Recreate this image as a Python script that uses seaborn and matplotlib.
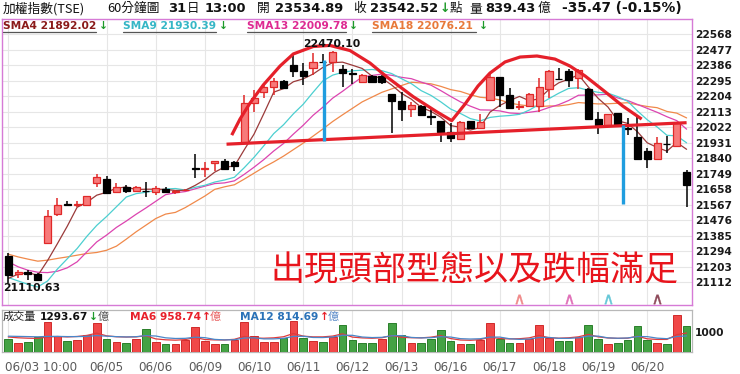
import matplotlib
matplotlib.use("Agg")
import matplotlib.pyplot as plt
import matplotlib.transforms as mtransforms
from matplotlib.lines import Line2D
import numpy as np
import pandas as pd
import seaborn as sns

# ---------------- data ----------------
days = ["06/03", "06/04", "06/05", "06/06", "06/09", "06/10", "06/11",
        "06/12", "06/13", "06/16", "06/17", "06/18", "06/19", "06/20"]
bar_times = ["10:00", "11:00", "12:00", "13:00", "13:30"]
unlabeled_days = ["06/04"]

opens = [21265, 21158, 21170, 21158, 21340, 21512, 21574, 21566, 21568, 21696,
         21715, 21641, 21670, 21647, 21649, 21643, 21660, 21641, 21651, 21780,
         21776, 21813, 21823, 21817, 21926, 22165, 22230, 22259, 22294, 22386,
         22353, 22367, 22406, 22406, 22363, 22340, 22288, 22324, 22324, 22218,
         22177, 22128, 22146, 22087, 22060, 21995, 21954, 22056, 22018, 22179,
         22318, 22210, 22139, 22146, 22144, 22246, 22305, 22352, 22310, 22244,
         22069, 22034, 22102, 22016, 21962, 21883, 21833, 21924, 21914, 21757]
highs = [21281, 21187, 21183, 21164, 21535, 21604, 21590, 21590, 21621, 21745,
         21735, 21692, 21682, 21676, 21702, 21678, 21672, 21653, 21660, 21866,
         21819, 21825, 21833, 21823, 22210, 22241, 22283, 22308, 22298, 22454,
         22400, 22455, 22450, 22470.10, 22386, 22361, 22333, 22328, 22328, 22218,
         22230, 22168, 22151, 22130, 22060, 22044, 22060, 22058, 22097, 22337,
         22318, 22249, 22178, 22220, 22308, 22357, 22371, 22361, 22362, 22249,
         22112, 22100, 22103, 22078, 22081, 21897, 21966, 21972, 22054, 21768]
lows = [21110.63, 21140, 21128, 21124, 21340, 21500, 21561, 21555, 21565, 21672,
        21629, 21633, 21633, 21641, 21614, 21623, 21637, 21629, 21647, 21721,
        21731, 21766, 21770, 21766, 21926, 22112, 22191, 22210, 22245, 22314,
        22269, 22328, 22400, 22347, 22259, 22275, 22283, 22279, 22275, 21985,
        22056, 22081, 22085, 22036, 21936, 21936, 21948, 22014, 22014, 22179,
        22142, 22127, 22122, 22142, 22112, 22195, 22302, 22257, 22245, 22069,
        21983, 22030, 22032, 21975, 21834, 21780, 21829, 21873, 21911, 21555]
closes = [21154, 21170, 21158, 21128, 21502, 21568, 21566, 21572, 21621, 21731,
          21637, 21668, 21647, 21672, 21645, 21666, 21643, 21645, 21655, 21776,
          21780, 21821, 21776, 21793, 22165, 22190, 22259, 22292, 22249, 22353,
          22324, 22406, 22403, 22465, 22337, 22335, 22328, 22285, 22288, 22177,
          22130, 22150, 22093, 22083, 21993, 21956, 22052, 22018, 22050, 22318,
          22210, 22134, 22144, 22218, 22255, 22353, 22303, 22300, 22359, 22069,
          22034, 22098, 22034, 22011, 21838, 21837, 21926, 21921, 22044, 21682]
sma4 = [21135, 21160, 21170, 21152, 21240, 21339, 21441, 21552, 21582, 21623,
        21640, 21664, 21671, 21656, 21658, 21658, 21657, 21650, 21652, 21680,
        21714, 21758, 21788, 21793, 21889, 21981, 22102, 22227, 22248, 22288,
        22305, 22333, 22372, 22400, 22403, 22385, 22366, 22321, 22309, 22269,
        22220, 22186, 22138, 22114, 22080, 22031, 22021, 22005, 22019, 22110,
        22149, 22178, 22202, 22177, 22188, 22243, 22282, 22303, 22329, 22258,
        22191, 22140, 22059, 22044, 21995, 21930, 21903, 21881, 21932, 21892]
sma9 = [21140, 21120, 21100, 21085, 21120, 21190, 21250, 21310, 21382, 21446,
        21498, 21555, 21612, 21632, 21640, 21651, 21659, 21662, 21653, 21669,
        21681, 21700, 21712, 21728, 21784, 21845, 21913, 21984, 22036, 22100,
        22156, 22226, 22293, 22327, 22343, 22352, 22356, 22360, 22353, 22336,
        22306, 22277, 22236, 22208, 22170, 22128, 22102, 22072, 22058, 22079,
        22086, 22090, 22097, 22122, 22155, 22189, 22221, 22249, 22253, 22238,
        22226, 22221, 22201, 22174, 22117, 22065, 22023, 21974, 21971, 21930]
sma13 = [21232, 21203, 21183, 21171, 21169, 21177, 21197, 21232, 21291, 21349,
         21389, 21434, 21471, 21511, 21548, 21587, 21626, 21637, 21644, 21660,
         21676, 21691, 21695, 21707, 21745, 21787, 21832, 21882, 21926, 21981,
         22033, 22091, 22139, 22192, 22232, 22275, 22316, 22325, 22333, 22326,
         22314, 22306, 22286, 22268, 22236, 22202, 22170, 22145, 22123, 22122,
         22117, 22105, 22102, 22109, 22117, 22137, 22154, 22178, 22209, 22210,
         22211, 22215, 22193, 22178, 22155, 22132, 22109, 22083, 22060, 22010]
sma18 = [21277, 21261, 21248, 21236, 21242, 21252, 21261, 21271, 21281, 21287,
         21300, 21324, 21365, 21408, 21447, 21486, 21512, 21522, 21550, 21584,
         21618, 21657, 21672, 21684, 21717, 21752, 21787, 21818, 21852, 21890,
         21928, 21969, 22011, 22055, 22094, 22132, 22170, 22198, 22226, 22246,
         22266, 22285, 22281, 22276, 22261, 22242, 22231, 22212, 22197, 22192,
         22182, 22163, 22153, 22146, 22142, 22146, 22146, 22154, 22166, 22162,
         22158, 22159, 22162, 22165, 22153, 22143, 22136, 22114, 22104, 22076]
volumes = [680, 469, 518, 760, 1489, 793, 550, 599, 841, 1440,
           680, 518, 469, 647, 1165, 518, 405, 405, 631, 1278,
           566, 405, 388, 599, 1489, 793, 518, 518, 712, 1569,
           712, 566, 518, 760, 1375, 599, 469, 469, 647, 1440,
           841, 469, 437, 680, 1116, 550, 405, 388, 631, 1440,
           680, 437, 469, 647, 1375, 728, 550, 550, 760, 1359,
           647, 405, 437, 599, 1327, 599, 469, 405, 1845, 1294]
vol_ma6 = [760, 720, 700, 690, 760, 785, 763, 785, 839, 952,
           817, 771, 758, 766, 820, 666, 620, 602, 629, 734,
           634, 615, 612, 645, 788, 707, 699, 718, 772, 933,
           804, 766, 766, 806, 917, 755, 715, 698, 720, 833,
           744, 723, 717, 752, 831, 682, 610, 596, 628, 755,
           682, 664, 674, 717, 841, 723, 701, 720, 768, 887,
           766, 712, 693, 701, 796, 669, 639, 639, 874, 959]
vol_ma12 = [800, 790, 780, 770, 790, 790, 780, 780, 790, 830,
            800, 778, 761, 775, 829, 809, 719, 686, 693, 750,
            727, 641, 616, 623, 708, 720, 666, 666, 692, 789,
            796, 736, 732, 762, 844, 844, 759, 732, 743, 820,
            830, 739, 716, 725, 775, 758, 677, 659, 673, 754,
            756, 673, 642, 657, 735, 739, 692, 692, 721, 802,
            804, 717, 697, 711, 782, 778, 703, 676, 784, 815]

price_ticks = [22568, 22477, 22386, 22295, 22204, 22113, 22022, 21931, 21840,
               21749, 21658, 21567, 21476, 21385, 21294, 21203, 21112]
volume_ticks = [1000]

# hand-drawn pattern annotation (bar index, price)
neck_x = [22.2, 69.0]
neck_y = [21922, 22048]
head_x = [22.73, 23.57, 24.59, 25.94, 27.64, 28.99, 31.03, 32.72, 34.76, 36.79,
          38.49, 41.20, 43.58, 45.11, 46.46, 47.78, 49.0, 50.53, 52.06, 53.78,
          55.61, 57.14, 58.67, 60.5, 62.5, 64.43]
head_y = [21975, 22069, 22163, 22269, 22380, 22451, 22495, 22501, 22471, 22398,
          22317, 22200, 22112, 22060, 22157, 22263, 22339, 22404, 22433, 22439,
          22421, 22380, 22322, 22239, 22146, 22069]
measure_x = [32.15, 62.5]
measure_top = [22415, 22034]
measure_bottom = [21940, 21570]
signal_bars = [52, 57, 61, 66]
signal_kinds = ["SMA4", "SMA13", "SMA9", "SMA4x"]

pattern_text = "出現頭部型態以及跌幅滿足"

# ---------------- frame ----------------
n_bars = len(closes)
df = pd.DataFrame({
    "bar": np.arange(n_bars),
    "day": np.repeat(days, len(bar_times)),
    "time": bar_times * len(days),
    "open": opens, "high": highs, "low": lows, "close": closes,
    "sma4": sma4, "sma9": sma9, "sma13": sma13, "sma18": sma18,
    "volume": volumes, "vma6": vol_ma6, "vma12": vol_ma12,
})
df["up"] = df["close"] >= df["open"]
prev_close = df["close"].shift(1)
df["vol_up"] = np.where(prev_close.isna(), df["up"], df["close"] > prev_close)

sns.set_theme(style="white")
plt.rcParams["font.family"] = ["DejaVu Sans", "Noto Sans CJK TC"]
CJK = ["Noto Sans CJK TC", "DejaVu Sans"]

W, H = 740, 374
fig = plt.figure(figsize=(W / 100, H / 100), dpi=100)


def fx(x):
    return x / W


def fy(y):
    return 1 - y / H


L, R = 2, 692
ax = fig.add_axes([fx(L), fy(305), (R - L) / W, (305 - 19) / H])
axv = fig.add_axes([fx(L), fy(352.3), (R - L) / W, (352.3 - 310) / H], sharex=ax)

RED_FILL = "#f77a7a"
RED_EDGE = "#e02828"
GRID = "#e6e6e6"
C4, C9, C13, C18 = "#9a3a3a", "#4ccfd0", "#dc44b0", "#f0894a"

# candles
wick_colors = np.where(df["up"], RED_EDGE, "#000000")
ax.vlines(df["bar"], df["low"], df["high"], colors=wick_colors, linewidth=1.1, zorder=3)
body_bottom = np.minimum(df["open"], df["close"])
body_height = (df["close"] - df["open"]).abs()
ax.bar(df["bar"], body_height, bottom=body_bottom, width=0.72,
       color=np.where(df["up"], RED_FILL, "#000000"),
       edgecolor=np.where(df["up"], RED_EDGE, "#000000"), linewidth=0.9, zorder=4)

# moving averages
for col, colr in [("sma18", C18), ("sma13", C13), ("sma9", C9), ("sma4", C4)]:
    sns.lineplot(data=df, x="bar", y=col, ax=ax, color=colr, linewidth=0.9, zorder=2)

# pattern annotation
PAT_RED = "#e5202a"
ax.plot(neck_x, neck_y, color=PAT_RED, linewidth=2.3, zorder=6, solid_capstyle="butt")
ax.plot(head_x, head_y, color=PAT_RED, linewidth=2.3, zorder=6, solid_capstyle="butt")
ax.vlines(measure_x, measure_bottom, measure_top, colors="#1f9ddf", linewidth=2.4, zorder=6)

# hi / lo labels
hi_idx = int(np.argmax(highs))
lo_idx = int(np.argmin(lows))
ax.annotate(f"{highs[hi_idx]:.2f}", xy=(hi_idx, highs[hi_idx]), xytext=(-1, 1.5),
            textcoords="offset points", ha="center", va="bottom",
            fontsize=7.8, fontweight="bold", color="#111111", zorder=7)
ax.annotate(f"{lows[lo_idx]:.2f}", xy=(lo_idx, lows[lo_idx]), xytext=(-4, -0.5),
            textcoords="offset points", ha="left", va="top",
            fontsize=7.8, fontweight="bold", color="#111111", zorder=7)

# signal carets along the bottom
sig_colors = {"SMA4": "#f08a8a", "SMA13": "#e070b8", "SMA9": "#66c8d8", "SMA4x": "#8e4a5a"}
trans_b = mtransforms.blended_transform_factory(ax.transData, ax.transAxes)
for b, k in zip(signal_bars, signal_kinds):
    ax.scatter([b], [0.022], marker=r"$\wedge$", s=45, color=sig_colors[k],
               transform=trans_b, zorder=7, linewidths=0.3)

ax.text(0.684, 0.118, pattern_text, transform=ax.transAxes, ha="center", va="center",
        fontsize=24.5, color="#e8141c", family=CJK, zorder=8)

# axes formatting (price)
tick_bars = [int(df.index[df["day"] == d][0]) for d in days]
tick_labels = [("" if d in unlabeled_days else d) for d in days]
tick_labels[0] = f"{days[0]} {bar_times[0]}"
keep = [i for i, d in enumerate(days) if d not in unlabeled_days]
tick_bars = [tick_bars[i] for i in keep]
tick_labels = [tick_labels[i] for i in keep]

ax.set_xlim(-0.64, 69.55)
ax.set_ylim(20979, 22656)
ax.set_xticks(tick_bars)
ax.set_yticks(price_ticks)
ax.yaxis.tick_right()
ax.tick_params(axis="y", length=0, pad=2.2, labelsize=7.7)
for t in ax.get_yticklabels():
    t.set_fontweight("bold")
    t.set_color("#1a1a1a")
ax.tick_params(axis="x", length=0, labelbottom=False)
ax.grid(True, color=GRID, linewidth=0.8)
ax.set_axisbelow(True)
ax.set_xlabel("")
ax.set_ylabel("")
for s in ax.spines.values():
    s.set_color("#d67ad6")
    s.set_linewidth(1.0)
    s.set_visible(True)

# volume panel
vol_colors = np.where(df["vol_up"], "#f04848", "#44a244")
vol_edges = np.where(df["vol_up"], "#d02a2a", "#2a7f2a")
axv.bar(df["bar"], df["volume"], width=0.78, color=vol_colors, edgecolor=vol_edges,
        linewidth=0.7, zorder=3)
sns.lineplot(data=df, x="bar", y="vma6", ax=axv, color="#e03a3a", linewidth=0.9, zorder=4)
sns.lineplot(data=df, x="bar", y="vma12", ax=axv, color="#4a86c8", linewidth=0.9, zorder=4)
axv.set_ylim(0, 2100)
axv.set_yticks(volume_ticks)
axv.yaxis.tick_right()
axv.tick_params(axis="y", length=0, pad=2.2, labelsize=7.7)
for t in axv.get_yticklabels():
    t.set_fontweight("bold")
    t.set_color("#1a1a1a")
axv.set_xticks(tick_bars)
axv.set_xticklabels(tick_labels)
axv.tick_params(axis="x", direction="out", length=4, width=0.8, color="#999999",
                labelsize=8.6, labelcolor="#5a5a5a", pad=2)
first = axv.get_xticklabels()[0]
first.set_horizontalalignment("left")
first.set_transform(first.get_transform() +
                    mtransforms.ScaledTranslation(-3 / 100, 0, fig.dpi_scale_trans))
axv.grid(True, axis="x", color=GRID, linewidth=0.8)
axv.set_axisbelow(True)
axv.set_xlabel("")
axv.set_ylabel("")
for s in axv.spines.values():
    s.set_color("#b8b8b8")
    s.set_linewidth(0.9)
    s.set_visible(True)


# ---------------- texts ----------------
def ftxt(x, y, s, size=9.5, bold=False, color="#111111", family=None, **kw):
    fig.text(fx(x), fy(y), s, fontsize=size, fontweight="bold" if bold else "normal",
             color=color, family=family if family else ["DejaVu Sans", "Noto Sans CJK TC"],
             ha="left", va="center", **kw)


GREEN = "#1e9a2a"
hy = 8.5
NUM = 9.4
ftxt(3, hy, "加權指數(TSE)", 9.2, family=CJK)
ftxt(107, hy, "60分鐘圖", 9.2, family=CJK)
ftxt(168, hy, "31", NUM, True)
ftxt(186.5, hy, "日", 9.0, family=CJK)
ftxt(205, hy, "13:00", NUM, True)
ftxt(257, hy, "開", 9.2, family=CJK)
ftxt(275, hy, "23534.89", NUM, True)
ftxt(353, hy, "收", 9.2, family=CJK)
ftxt(370, hy, "23542.52", NUM, True)
ftxt(439.5, hy, "↓", 9.0, True, GREEN)
ftxt(450, hy, "點", 9.0, family=CJK)
ftxt(469, hy, "量", 9.2, family=CJK)
ftxt(485, hy, "839.43", NUM, True)
ftxt(538, hy, "億", 9.2, family=CJK)
ftxt(562, hy, "-35.47 (-0.15%)", NUM + 0.5, True)

ly = 25.8
legend_items = [(3, "#8b1a1a", 96), (123, "#36b6c6", 216),
                (247, "#de2a92", 346), (372, "#e8793a", 476)]
legend_values = ["SMA4 21892.02", "SMA9 21930.39", "SMA13 22009.78", "SMA18 22076.21"]
for (x0, colr, x1), lab in zip(legend_items, legend_values):
    ftxt(x0, ly, lab, 7.7, True, colr)
    ftxt(x1 + 3, ly, "↓", 7.7, True, GREEN)
    fig.add_artist(Line2D([fx(x0), fx(x1)], [fy(32.3), fy(32.3)], color="#555555",
                          linewidth=0.9, transform=fig.transFigure))

vy = 317
ftxt(3, vy, "成交量", 8, family=CJK, color="#222222")
ftxt(40, vy, "1293.67", 7.7, True)
ftxt(89, vy, "↓", 7.7, True, GREEN)
ftxt(98, vy, "億", 8, family=CJK, color="#555555")
ftxt(130, vy, "MA6 958.74", 7.7, True, "#e8202a")
ftxt(202, vy, "↑", 7.7, True, "#e8202a")
ftxt(210, vy, "億", 8, family=CJK, color="#e86060")
ftxt(240, vy, "MA12 814.69", 7.7, True, "#2a72b8")
ftxt(320, vy, "↑", 7.7, True, "#e8202a")
ftxt(328, vy, "億", 8, family=CJK, color="#5a8ac8")

fig.savefig("out.png", dpi=100)
